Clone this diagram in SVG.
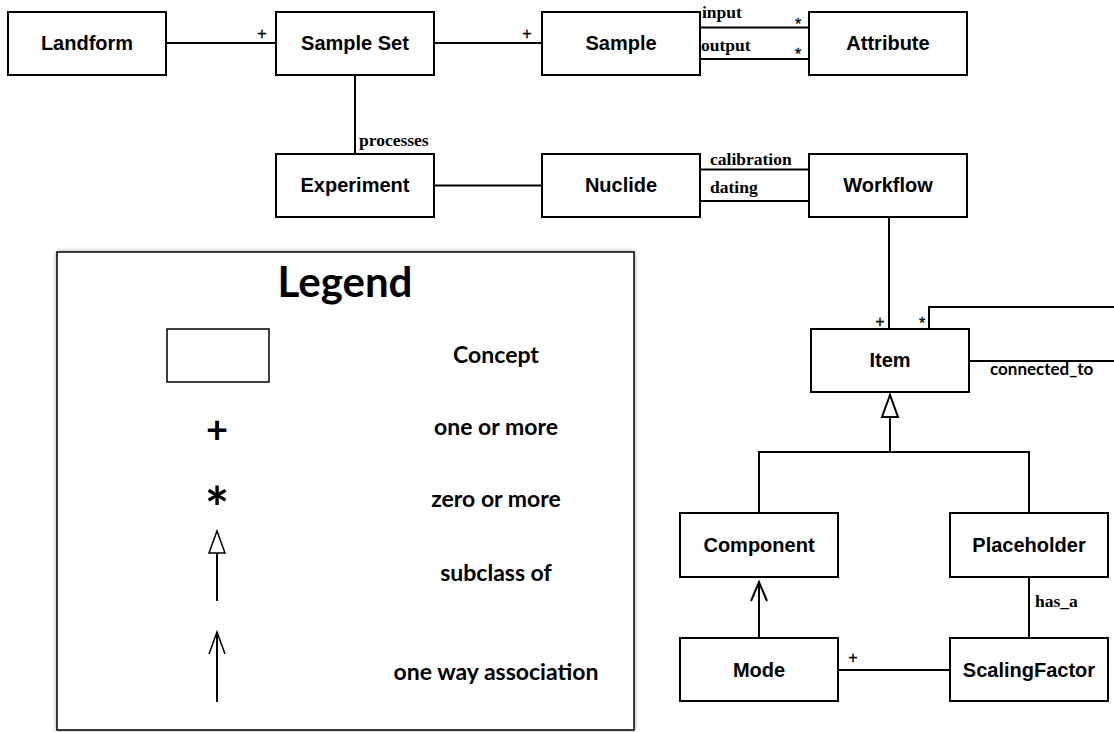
<svg xmlns="http://www.w3.org/2000/svg" width="1114" height="732" viewBox="0 0 1114 732">
<defs>
<filter id="shadow" x="-5%" y="-5%" width="110%" height="110%">
<feGaussianBlur stdDeviation="2.5"/>
</filter>
</defs>
<style>
.box{fill:#fff;stroke:#000;stroke-width:2}
.name{font-family:"Liberation Sans",Arial,sans-serif;font-weight:bold;font-size:20px;text-anchor:middle;fill:#000}
.ln{fill:none;stroke:#000;stroke-width:2}
.lbl{font-family:"Liberation Serif","Times New Roman",serif;font-weight:bold;font-size:17.5px;fill:#000}
.mult{font-family:"Liberation Sans",Arial,sans-serif;font-size:16px;text-anchor:middle;fill:#000;stroke:#000;stroke-width:0.3}
.opt{font-family:Lato,"Open Sans",sans-serif;font-weight:bold;fill:#000}
.leg{font-family:Lato,"Open Sans",sans-serif;font-weight:bold;font-size:23px;text-anchor:middle;fill:#000}
</style>
<rect width="1114" height="732" fill="#fff"/>

<g id="connectors">
<line class="ln" x1="167" y1="43" x2="276" y2="43"/>
<line class="ln" x1="434" y1="43" x2="542" y2="43"/>
<line class="ln" x1="700" y1="27.5" x2="809" y2="27.5"/>
<line class="ln" x1="700" y1="59" x2="809" y2="59"/>
<line class="ln" x1="355" y1="75" x2="355" y2="154"/>
<line class="ln" x1="434" y1="185.5" x2="542" y2="185.5"/>
<line class="ln" x1="700" y1="169.5" x2="809" y2="169.5"/>
<line class="ln" x1="700" y1="201" x2="809" y2="201"/>
<line class="ln" x1="889" y1="217" x2="889" y2="329"/>
<polyline class="ln" points="929,329 929,307 1116,307"/>
<line class="ln" x1="969" y1="361" x2="1116" y2="361"/>
<polygon points="890,395 882,417 898,417" fill="#fff" stroke="#000" stroke-width="2"/>
<line class="ln" x1="890" y1="417" x2="890" y2="452"/>
<polyline class="ln" points="759,513 759,452 1029,452 1029,513"/>
<line class="ln" x1="759" y1="638" x2="759" y2="582"/>
<polyline class="ln" points="751,601 759,582 767,601"/>
<line class="ln" x1="1029" y1="577" x2="1029" y2="638"/>
<line class="ln" x1="838" y1="670" x2="950" y2="670"/>
<text class="mult" x="262" y="39">+</text>
<text class="mult" x="527" y="39">+</text>
<text class="mult" x="798" y="29.5">*</text>
<text class="mult" x="798" y="59.5">*</text>
<text class="mult" x="880" y="327">+</text>
<text class="mult" x="922" y="329">*</text>
<text class="mult" x="853" y="663">+</text>
<text class="lbl" x="359" y="146">processes</text>
<text class="lbl" x="702" y="18">input</text>
<text class="lbl" x="701" y="51">output</text>
<text class="lbl" x="710" y="165">calibration</text>
<text class="lbl" x="710" y="193">dating</text>
<text class="lbl" x="1035" y="607">has_a</text>
<text class="opt" x="990" y="375" font-size="17">connected_to</text>
</g>

<g id="landform"><rect class="box" x="8" y="12" width="158" height="63"/><text class="name" x="87" y="50">Landform</text></g>
<g id="sample-set"><rect class="box" x="276" y="12" width="158" height="63"/><text class="name" x="355" y="50">Sample Set</text></g>
<g id="sample"><rect class="box" x="542" y="12" width="158" height="63"/><text class="name" x="621" y="50">Sample</text></g>
<g id="attribute"><rect class="box" x="809" y="12" width="158" height="63"/><text class="name" x="888" y="50">Attribute</text></g>
<g id="experiment"><rect class="box" x="276" y="154" width="158" height="63"/><text class="name" x="355" y="192">Experiment</text></g>
<g id="nuclide"><rect class="box" x="542" y="154" width="158" height="63"/><text class="name" x="621" y="192">Nuclide</text></g>
<g id="workflow"><rect class="box" x="809" y="154" width="158" height="63"/><text class="name" x="888" y="192">Workflow</text></g>
<g id="item"><rect class="box" x="811" y="329" width="158" height="63"/><text class="name" x="890" y="367">Item</text></g>
<g id="component"><rect class="box" x="680" y="513" width="158" height="64"/><text class="name" x="759" y="552">Component</text></g>
<g id="placeholder"><rect class="box" x="950" y="513" width="158" height="64"/><text class="name" x="1029" y="552">Placeholder</text></g>
<g id="mode"><rect class="box" x="680" y="638" width="158" height="63"/><text class="name" x="759" y="677">Mode</text></g>
<g id="scaling-factor"><rect class="box" x="950" y="638" width="158" height="63"/><text class="name" x="1029" y="677">ScalingFactor</text></g>

<g id="legend">
<rect x="57" y="252" width="577" height="478" fill="#777" filter="url(#shadow)"/>
<rect x="57" y="252" width="577" height="478" fill="#fff" stroke="#000" stroke-width="1.5"/>
<text class="opt" x="345" y="297" font-size="42" text-anchor="middle">Legend</text>
<rect x="167" y="329" width="102" height="53" fill="#fff" stroke="#000" stroke-width="1.5"/>
<text class="leg" x="496" y="363">Concept</text>
<text class="opt" x="217" y="443" font-size="38" text-anchor="middle">+</text>
<text class="leg" x="496" y="435">one or more</text>
<text class="opt" x="217" y="529" font-size="58" text-anchor="middle">*</text>
<text class="leg" x="496" y="507">zero or more</text>
<polygon points="217,531 209,553 225,553" fill="#fff" stroke="#000" stroke-width="1.5"/>
<line x1="217" y1="553" x2="217" y2="601" stroke="#000" stroke-width="2"/>
<text class="leg" x="496" y="581">subclass of</text>
<polyline points="209,654 217,632 225,654" fill="none" stroke="#000" stroke-width="1.5"/>
<line x1="217" y1="632" x2="217" y2="702" stroke="#000" stroke-width="2"/>
<text class="leg" x="496" y="680">one way association</text>
</g>
</svg>
